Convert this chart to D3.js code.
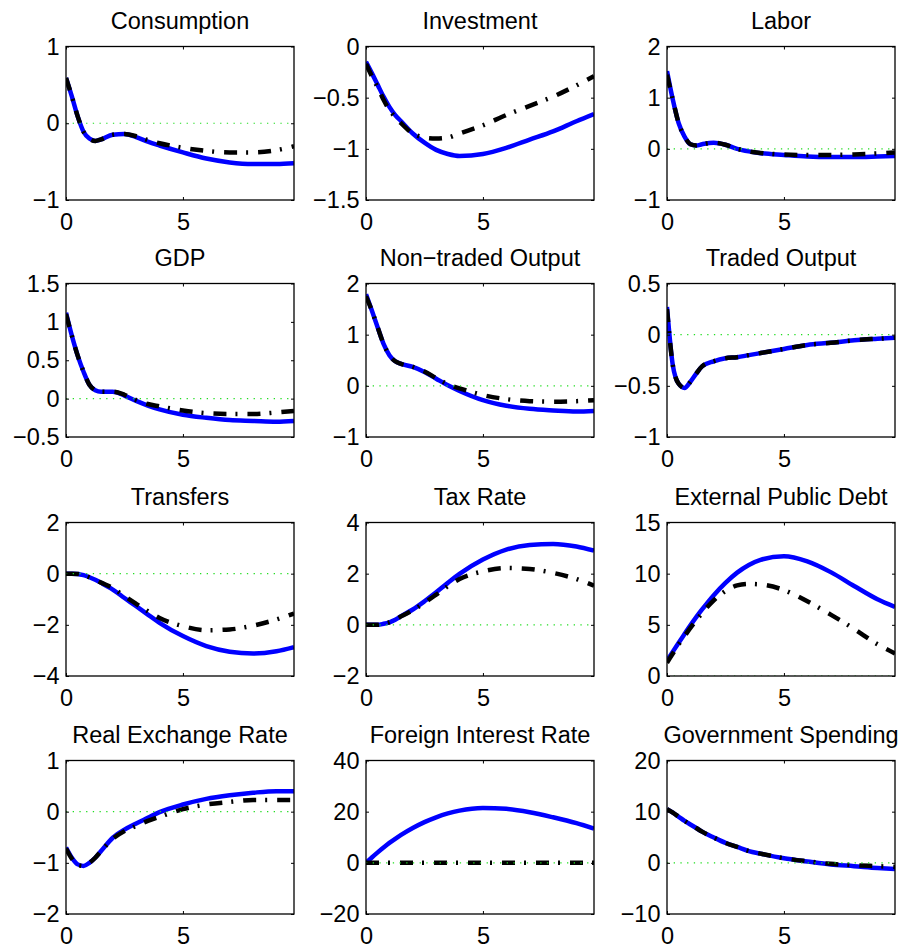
<!DOCTYPE html>
<html>
<head>
<meta charset="utf-8">
<script src="https://cdn.jsdelivr.net/npm/d3@7"></script>
<style>
  html, body { margin: 0; padding: 0; background: #fff; }
  svg { display: block; }
  text { font-family: "Liberation Sans", Arial, Helvetica, sans-serif; fill: #000; }
</style>
</head>
<body>
<svg id="chart" width="901" height="950"></svg>
<script>
// Horizon (years) at which each response is sampled
const periods = [0, 0.25, 0.5, 0.75, 1, 1.25, 1.5, 2, 2.5, 3, 3.5, 4, 5, 6, 7, 8, 9, 9.75];

const titles = [
  "Consumption", "Investment", "Labor",
  "GDP", "Non\u2212traded Output", "Traded Output",
  "Transfers", "Tax Rate", "External Public Debt",
  "Real Exchange Rate", "Foreign Interest Rate", "Government Spending"
];

const yDomains = [
  [-1, 1], [-1.5, 0], [-1, 2],
  [-0.5, 1.5], [-1, 2], [-1, 0.5],
  [-4, 2], [-2, 4], [0, 15],
  [-2, 1], [-20, 40], [-10, 20]
];

const yTickValues = [
  [-1, 0, 1], [-1.5, -1, -0.5, 0], [-1, 0, 1, 2],
  [-0.5, 0, 0.5, 1, 1.5], [-1, 0, 1, 2], [-1, -0.5, 0, 0.5],
  [-4, -2, 0, 2], [-2, 0, 2, 4], [0, 5, 10, 15],
  [-2, -1, 0, 1], [-20, 0, 20, 40], [-10, 0, 10, 20]
];

const xTickValues = [0, 5];

// Responses: solid (blue) and dash-dot (black) paths
const consumptionSolid   = [0.59, 0.35, 0.09, -0.11, -0.20, -0.23, -0.21, -0.15, -0.14, -0.18, -0.24, -0.29, -0.38, -0.46, -0.51, -0.53, -0.53, -0.52];
const consumptionDashDot = [0.59, 0.35, 0.09, -0.11, -0.20, -0.23, -0.21, -0.15, -0.14, -0.17, -0.22, -0.26, -0.32, -0.36, -0.38, -0.38, -0.35, -0.30];

const investmentSolid   = [-0.15, -0.26, -0.375, -0.49, -0.59, -0.67, -0.73, -0.85, -0.94, -1.01, -1.05, -1.07, -1.05, -0.99, -0.91, -0.83, -0.73, -0.66];
const investmentDashDot = [-0.17, -0.29, -0.40, -0.52, -0.62, -0.69, -0.75, -0.85, -0.89, -0.90, -0.89, -0.85, -0.77, -0.67, -0.58, -0.49, -0.38, -0.29];

const laborSolid   = [1.52, 0.96, 0.50, 0.24, 0.09, 0.065, 0.09, 0.12, 0.08, 0.0, -0.05, -0.085, -0.12, -0.15, -0.16, -0.16, -0.15, -0.14];
const laborDashDot = [1.45, 0.96, 0.50, 0.24, 0.09, 0.065, 0.09, 0.12, 0.08, 0.0, -0.05, -0.08, -0.11, -0.12, -0.12, -0.11, -0.09, -0.07];

const gdpSolid   = [1.12, 0.82, 0.56, 0.35, 0.18, 0.11, 0.09, 0.09, 0.04, -0.03, -0.09, -0.14, -0.21, -0.25, -0.28, -0.29, -0.30, -0.29];
const gdpDashDot = [1.10, 0.82, 0.56, 0.35, 0.18, 0.11, 0.09, 0.09, 0.05, -0.02, -0.07, -0.10, -0.155, -0.19, -0.20, -0.20, -0.18, -0.16];

const nonTradedSolid   = [1.79, 1.47, 1.14, 0.82, 0.60, 0.48, 0.43, 0.37, 0.27, 0.14, 0.01, -0.10, -0.28, -0.39, -0.45, -0.48, -0.50, -0.49];
const nonTradedDashDot = [1.75, 1.47, 1.14, 0.82, 0.60, 0.48, 0.43, 0.37, 0.28, 0.15, 0.03, -0.05, -0.18, -0.26, -0.30, -0.31, -0.30, -0.28];

const tradedSolid   = [0.27, -0.30, -0.48, -0.52, -0.46, -0.38, -0.31, -0.26, -0.23, -0.22, -0.20, -0.18, -0.14, -0.10, -0.08, -0.055, -0.04, -0.03];
const tradedDashDot = [0.25, -0.30, -0.48, -0.52, -0.46, -0.38, -0.31, -0.26, -0.23, -0.22, -0.20, -0.18, -0.14, -0.10, -0.08, -0.055, -0.04, -0.03];

const transfersSolid   = [0, 0, -0.01, -0.06, -0.14, -0.24, -0.36, -0.62, -0.95, -1.27, -1.60, -1.92, -2.44, -2.83, -3.05, -3.12, -3.03, -2.87];
const transfersDashDot = [0, 0, -0.01, -0.06, -0.14, -0.24, -0.35, -0.56, -0.88, -1.18, -1.47, -1.73, -2.05, -2.21, -2.18, -2.03, -1.79, -1.56];

const taxRateSolid   = [0, 0, 0, 0.04, 0.10, 0.20, 0.34, 0.60, 0.92, 1.27, 1.64, 1.99, 2.55, 2.94, 3.12, 3.16, 3.06, 2.90];
const taxRateDashDot = [0, 0, 0, 0.04, 0.10, 0.20, 0.33, 0.57, 0.86, 1.18, 1.51, 1.79, 2.09, 2.22, 2.18, 2.03, 1.79, 1.53];

const publicDebtSolid   = [1.5, 2.38, 3.25, 4.1, 4.95, 5.75, 6.5, 7.9, 9.1, 10.1, 10.85, 11.35, 11.7, 11.2, 10.15, 8.8, 7.5, 6.75];
const publicDebtDashDot = [1.3, 2.2, 3.1, 3.9, 4.7, 5.45, 6.15, 7.4, 8.3, 8.85, 9.0, 8.95, 8.4, 7.3, 6.0, 4.6, 3.1, 2.2];

const realExchangeSolid   = [-0.70, -0.90, -1.03, -1.06, -1.00, -0.90, -0.77, -0.51, -0.35, -0.23, -0.12, -0.01, 0.14, 0.25, 0.32, 0.37, 0.40, 0.40];
const realExchangeDashDot = [-0.72, -0.92, -1.04, -1.06, -1.00, -0.90, -0.77, -0.53, -0.38, -0.28, -0.18, -0.10, 0.05, 0.14, 0.19, 0.23, 0.23, 0.23];

const foreignRateSolid   = [0, 2.1, 4.1, 6.0, 7.8, 9.4, 10.9, 13.6, 15.9, 17.8, 19.3, 20.4, 21.4, 21.1, 19.8, 17.8, 15.5, 13.4];
const foreignRateDashDot = [0, 0, 0, 0, 0, 0, 0, 0, 0, 0, 0, 0, 0, 0, 0, 0, 0, 0];

const govSpendingSolid   = [10.5, 9.8, 9.0, 8.2, 7.5, 6.8, 6.1, 4.95, 3.9, 3.1, 2.3, 1.8, 0.9, 0.26, -0.33, -0.65, -1.0, -1.2];
const govSpendingDashDot = [10.5, 9.8, 9.0, 8.2, 7.5, 6.8, 6.1, 4.95, 3.9, 3.1, 2.3, 1.8, 0.9, 0.3, -0.2, -0.45, -0.65, -0.8];

const solidSeries = [
  consumptionSolid, investmentSolid, laborSolid,
  gdpSolid, nonTradedSolid, tradedSolid,
  transfersSolid, taxRateSolid, publicDebtSolid,
  realExchangeSolid, foreignRateSolid, govSpendingSolid
];
const dashDotSeries = [
  consumptionDashDot, investmentDashDot, laborDashDot,
  gdpDashDot, nonTradedDashDot, tradedDashDot,
  transfersDashDot, taxRateDashDot, publicDebtDashDot,
  realExchangeDashDot, foreignRateDashDot, govSpendingDashDot
];

// Grid geometry
const colLeft = [66, 366, 667];
const rowTop = [46.5, 283.5, 522.5, 760.5];
const plotW = 228, plotH = 153.5;
const fontSize = 23.5;
const tickLen = 3;

const svg = d3.select("#chart");
const fmt = v => String(v).replace("-", "\u2212");

titles.forEach((title, i) => {
  const col = i % 3, row = Math.floor(i / 3);
  const g = svg.append("g").attr("transform", `translate(${colLeft[col]},${rowTop[row]})`);

  const x = d3.scaleLinear().domain([0, 9.75]).range([0, plotW]);
  const y = d3.scaleLinear().domain(yDomains[i]).range([plotH, 0]);

  const clipId = "clip" + i;
  g.append("clipPath").attr("id", clipId)
    .append("rect").attr("width", plotW).attr("height", plotH);

  const line = d3.line()
    .x((d, k) => x(periods[k]))
    .y(d => y(d))
    .curve(d3.curveMonotoneX);

  const plot = g.append("g").attr("clip-path", `url(#${clipId})`);

  plot.append("path")
    .attr("d", line(solidSeries[i]))
    .attr("fill", "none")
    .attr("stroke", "#0000ff")
    .attr("stroke-width", 4.5)
    .attr("stroke-linejoin", "round");

  plot.append("path")
    .attr("d", line(dashDotSeries[i]))
    .attr("fill", "none")
    .attr("stroke", "#000")
    .attr("stroke-width", 4.5)
    .attr("stroke-dasharray", "13,9,2,10");

  // zero reference line
  plot.append("line")
    .attr("x1", 0).attr("x2", plotW)
    .attr("y1", y(0)).attr("y2", y(0))
    .attr("stroke", "#22dd22")
    .attr("stroke-width", 1.2)
    .attr("stroke-dasharray", "1.3,5.4");

  // axes with inward ticks
  const left = g.append("g")
    .call(d3.axisLeft(y).tickValues(yTickValues[i]).tickSize(-tickLen).tickPadding(6.5).tickFormat(fmt));
  const right = g.append("g").attr("transform", `translate(${plotW},0)`)
    .call(d3.axisRight(y).tickValues(yTickValues[i]).tickSize(-tickLen).tickFormat(""));
  const bottom = g.append("g").attr("transform", `translate(0,${plotH})`)
    .call(d3.axisBottom(x).tickValues(xTickValues).tickSize(-tickLen).tickPadding(13.5).tickFormat(d3.format("d")));
  const top = g.append("g")
    .call(d3.axisTop(x).tickValues(xTickValues).tickSize(-tickLen).tickFormat(""));

  [left, right, bottom, top].forEach(a => {
    a.select(".domain").remove();
    a.selectAll(".tick line").attr("stroke", "#000").attr("stroke-width", 1);
    a.selectAll("text")
      .attr("font-size", fontSize)
      .attr("font-family", "'Liberation Sans', Arial, Helvetica, sans-serif")
      .attr("fill", "#000");
  });

  g.append("rect")
    .attr("width", plotW).attr("height", plotH)
    .attr("fill", "none").attr("stroke", "#000").attr("stroke-width", 1.3);

  g.append("text")
    .attr("x", plotW / 2).attr("y", -18)
    .attr("text-anchor", "middle")
    .attr("font-size", fontSize)
    .text(title);
});
</script>
</body>
</html>
